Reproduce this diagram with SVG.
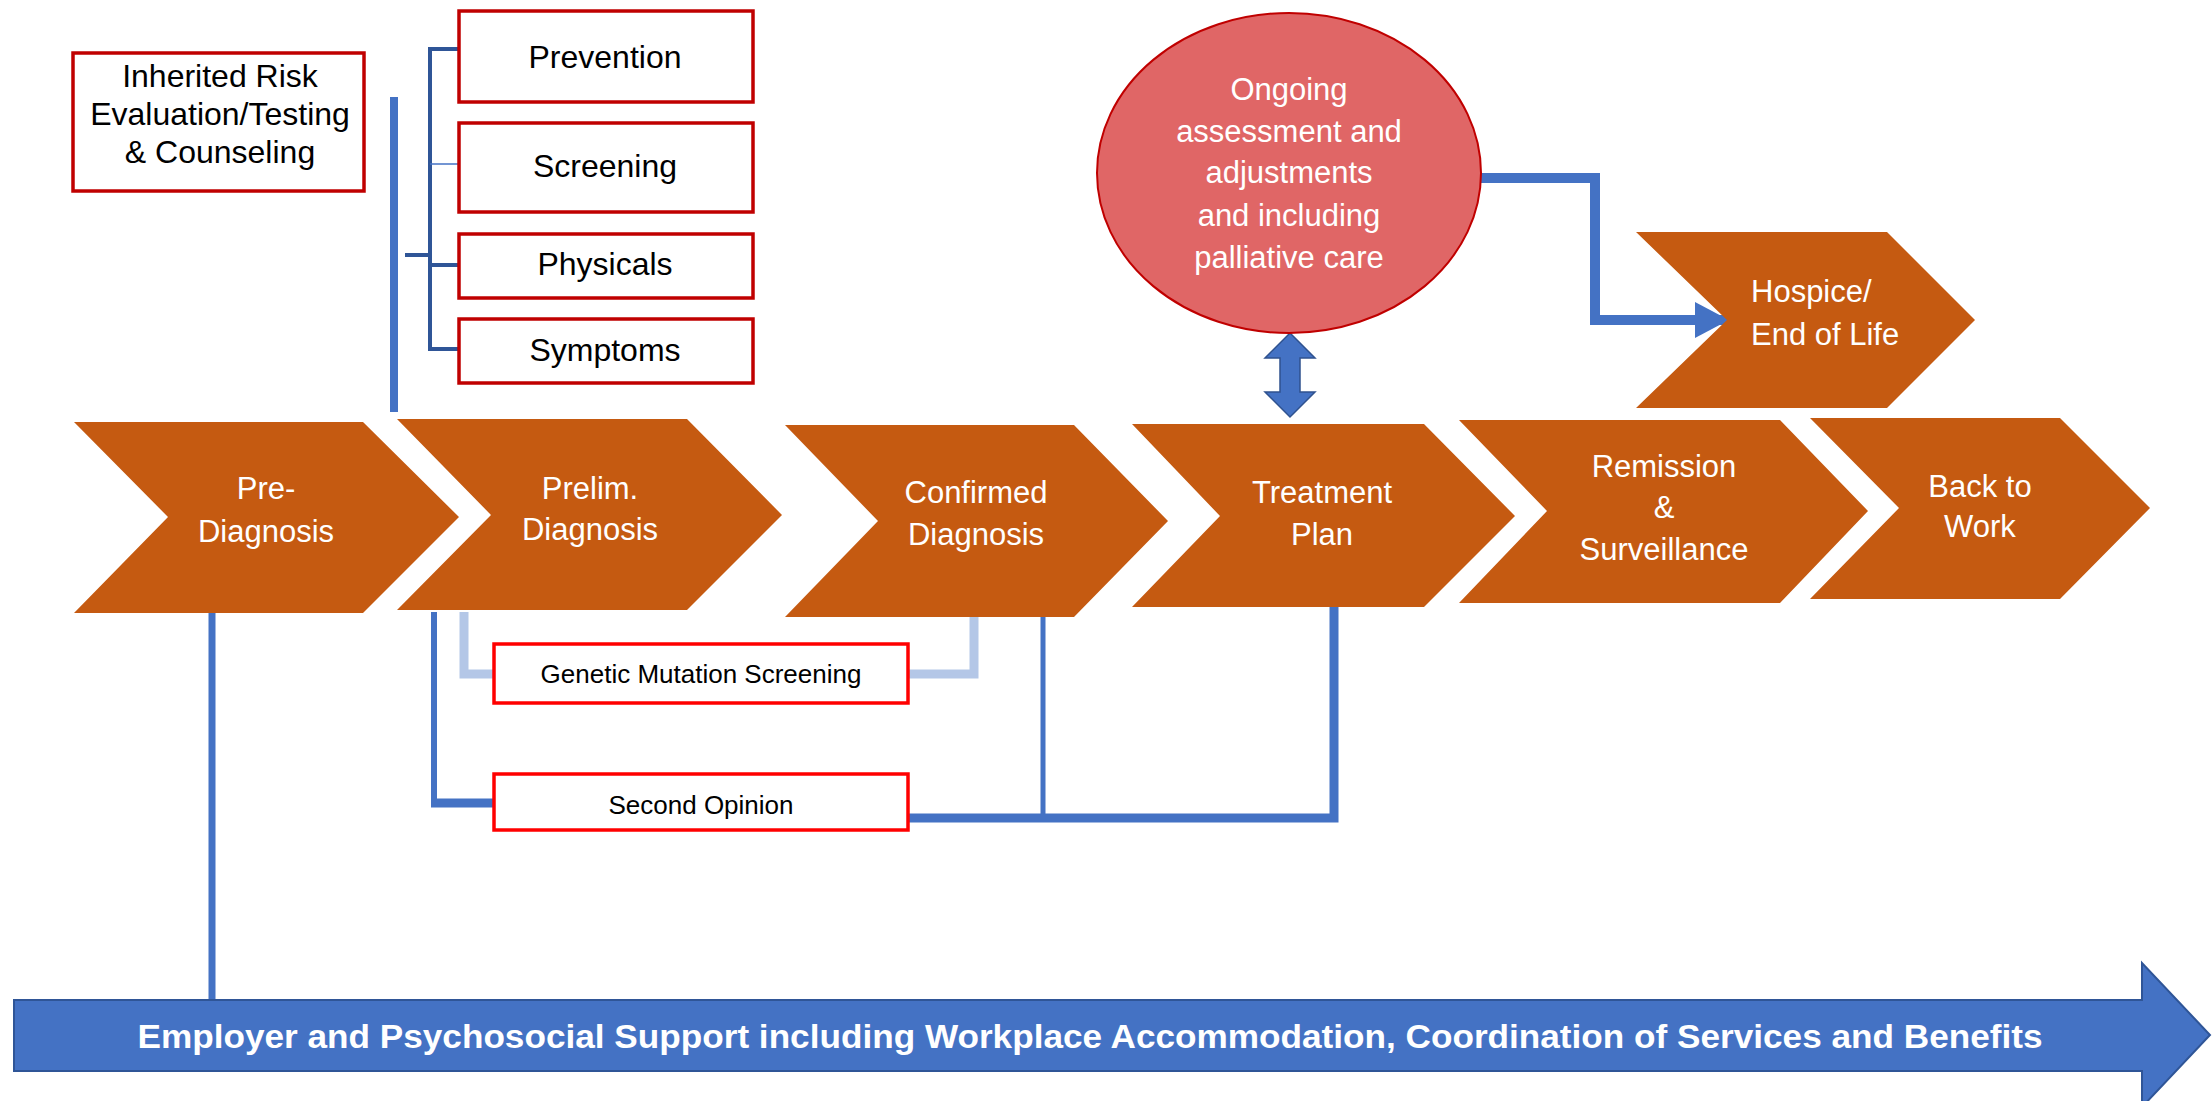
<svg xmlns="http://www.w3.org/2000/svg" width="2212" height="1101" viewBox="0 0 2212 1101">
<style>
.chev{fill:#C55A11;}
.ct{font-family:"Liberation Sans",Arial,sans-serif;font-size:31px;fill:#FFFFFF;text-anchor:middle;}
.box{fill:#FFFFFF;stroke:#C00000;stroke-width:3.5;}
.box2{fill:#FFFFFF;stroke:#FF0000;stroke-width:3.5;}
.bt{font-family:"Liberation Sans",Arial,sans-serif;font-size:32px;fill:#000000;text-anchor:middle;}
.st{font-family:"Liberation Sans",Arial,sans-serif;font-size:26px;fill:#000000;text-anchor:middle;}
.blue{fill:none;stroke:#4472C4;}
.light{fill:none;stroke:#B4C7E7;}
.dark{fill:none;stroke:#2F5597;}
</style>
<defs>
<marker id="ah" markerUnits="userSpaceOnUse" markerWidth="36" markerHeight="36" refX="34" refY="18" orient="auto">
<path d="M0,0 L34,18 L0,36 Z" fill="#4472C4"/>
</marker>
</defs>
<rect width="2212" height="1101" fill="#FFFFFF"/>

<g id="connectors">
<line class="blue" x1="394" y1="97" x2="394" y2="412" stroke-width="8"/>
<path class="dark" d="M405,255 H430 M459,49 H430 V349 H459 M430,265 H459" stroke-width="4"/>
<line x1="430" y1="164" x2="459" y2="164" stroke="#4472C4" stroke-width="1.5"/>
<line class="blue" x1="212" y1="613" x2="212" y2="1001" stroke-width="7"/>
<path class="blue" d="M434,612 V803" stroke-width="6"/>
<path class="blue" d="M431,803 H495" stroke-width="9"/>
<path class="light" d="M464,612 V674 H495" stroke-width="9"/>
<path class="light" d="M908,674 H974 V617" stroke-width="9"/>
<path class="blue" d="M1043,615 V818" stroke-width="5"/>
<path class="blue" d="M908,818 H1334 V607" stroke-width="9"/>
<path class="blue" d="M1480,178 H1595 V320 H1729" stroke-width="10" marker-end="url(#ah)"/>
<path d="M1290,333 L1315,358 L1300,358 L1300,392 L1315,392 L1290,417 L1265,392 L1280,392 L1280,358 L1265,358 Z" fill="#4472C4" stroke="#2F528F" stroke-width="1.5"/>
</g>

<g id="inherited">
<rect class="box" x="73" y="53" width="291" height="138"/>
<text class="bt" x="220" y="87">Inherited Risk</text>
<text class="bt" x="220" y="125">Evaluation/Testing</text>
<text class="bt" x="220" y="163">&amp; Counseling</text>
</g>
<g id="prevention">
<rect class="box" x="459" y="11" width="294" height="91"/>
<text class="bt" x="605" y="68">Prevention</text>
</g>
<g id="screening">
<rect class="box" x="459" y="123" width="294" height="89"/>
<text class="bt" x="605" y="177">Screening</text>
</g>
<g id="physicals">
<rect class="box" x="459" y="234" width="294" height="64"/>
<text class="bt" x="605" y="275">Physicals</text>
</g>
<g id="symptoms">
<rect class="box" x="459" y="319" width="294" height="64"/>
<text class="bt" x="605" y="361">Symptoms</text>
</g>

<g id="ongoing">
<ellipse cx="1289" cy="173" rx="192" ry="160" fill="#E06666" stroke="#C00000" stroke-width="2"/>
<text class="ct" x="1289" y="100">Ongoing</text>
<text class="ct" x="1289" y="142">assessment and</text>
<text class="ct" x="1289" y="183">adjustments</text>
<text class="ct" x="1289" y="226">and including</text>
<text class="ct" x="1289" y="268">palliative care</text>
</g>

<g id="pre-diagnosis">
<path class="chev" d="M74,422 L363,422 L459,517 L363,613 L74,613 L168,517 Z"/>
<text class="ct" x="266" y="499">Pre-</text>
<text class="ct" x="266" y="542">Diagnosis</text>
</g>
<g id="prelim-diagnosis">
<path class="chev" d="M397,419 L687,419 L782,515 L687,610 L397,610 L491,515 Z"/>
<text class="ct" x="590" y="499">Prelim.</text>
<text class="ct" x="590" y="540">Diagnosis</text>
</g>
<g id="confirmed-diagnosis">
<path class="chev" d="M785,425 L1074,425 L1168,521 L1074,617 L785,617 L878,521 Z"/>
<text class="ct" x="976" y="503">Confirmed</text>
<text class="ct" x="976" y="545">Diagnosis</text>
</g>
<g id="treatment-plan">
<path class="chev" d="M1132,424 L1424,424 L1515,516 L1424,607 L1132,607 L1220,516 Z"/>
<text class="ct" x="1322" y="503">Treatment</text>
<text class="ct" x="1322" y="545">Plan</text>
</g>
<g id="remission">
<path class="chev" d="M1459,420 L1780,420 L1868,511 L1780,603 L1459,603 L1547,511 Z"/>
<text class="ct" x="1664" y="477">Remission</text>
<text class="ct" x="1664" y="518">&amp;</text>
<text class="ct" x="1664" y="560">Surveillance</text>
</g>
<g id="back-to-work">
<path class="chev" d="M1810,418 L2060,418 L2150,508 L2060,599 L1810,599 L1899,508 Z"/>
<text class="ct" x="1980" y="497">Back to</text>
<text class="ct" x="1980" y="537">Work</text>
</g>
<g id="hospice">
<path class="chev" d="M1636,232 L1887,232 L1975,320 L1887,408 L1636,408 L1727,320 Z"/>
<text class="ct" x="1751" y="302" style="text-anchor:start">Hospice/</text>
<text class="ct" x="1751" y="345" style="text-anchor:start">End of Life</text>
</g>

<g id="genetic">
<rect class="box2" x="494" y="644" width="414" height="59"/>
<text class="st" x="701" y="683">Genetic Mutation Screening</text>
</g>
<g id="second-opinion">
<rect class="box2" x="494" y="774" width="414" height="56"/>
<text class="st" x="701" y="814">Second Opinion</text>
</g>

<g id="support">
<path d="M14,1000 H2142 V963 L2210,1035 L2142,1107 V1071 H14 Z" fill="#4472C4" stroke="#2F5597" stroke-width="2"/>
<text x="1090" y="1048" font-family="Liberation Sans,Arial,sans-serif" font-size="34" font-weight="bold" fill="#FFFFFF" text-anchor="middle" textLength="1905" lengthAdjust="spacingAndGlyphs">Employer and Psychosocial Support including Workplace Accommodation, Coordination of Services and Benefits</text>
</g>
</svg>
